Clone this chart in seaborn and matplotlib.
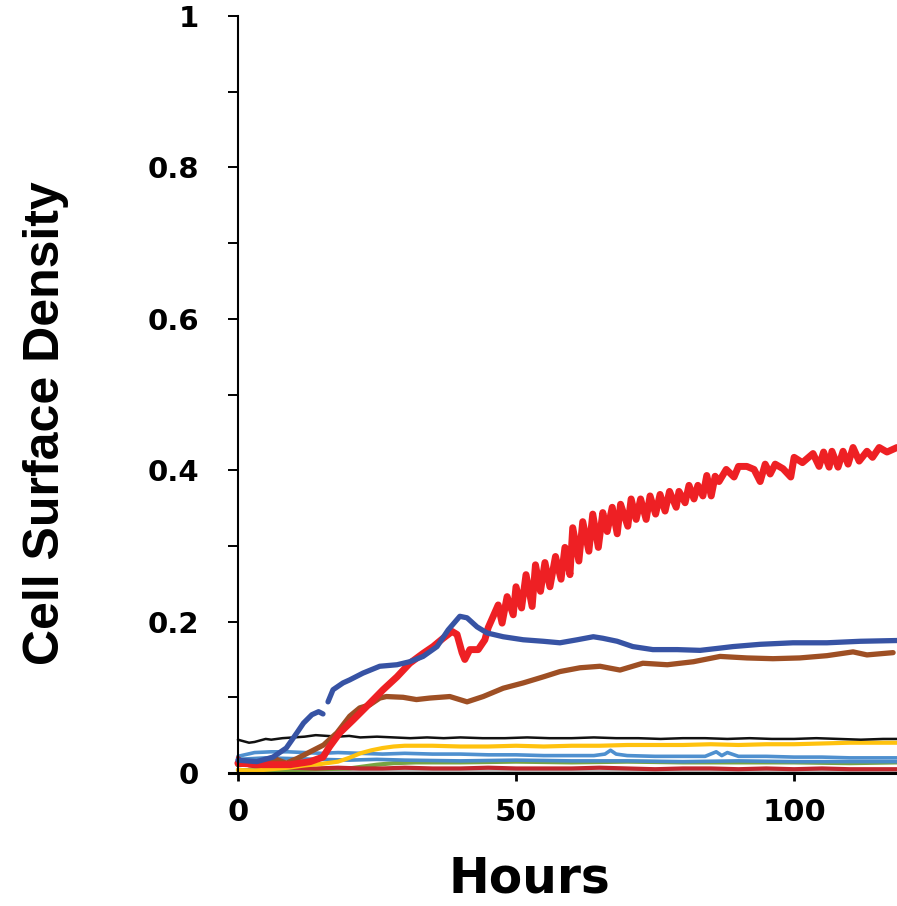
import matplotlib
matplotlib.use('Agg')
import matplotlib.pyplot as plt
import seaborn as sns
import pandas as pd

# main curve (red)
red_h = [0, 4.5, 9.4, 13.0, 15.3, 16.5, 18.3, 20.7, 23.7, 26.1, 28.6, 30.9, 33.3, 35.1, 36.9, 38.5,
         39.4, 40.3, 40.8, 41.7, 43.2, 44.4, 45.0, 46.8, 47.5, 48.4, 49.5, 50.0, 51.0, 51.8, 52.9,
         53.5, 54.4, 55.2, 56.1, 57.1, 58.1, 58.8, 59.7, 60.2, 61.3, 62.0, 63.1, 63.8, 64.8, 65.6,
         66.4, 67.3, 68.2, 68.8, 70.1, 70.7, 71.6, 72.4, 73.4, 74.1, 75.1, 75.9, 76.8, 77.6, 78.8,
         79.3, 80.4, 81.1, 82.0, 82.7, 83.6, 84.3, 85.1, 85.8, 86.5, 87.8, 89.2, 90.0, 91.5, 92.8,
         93.9, 94.8, 95.7, 96.6, 98.0, 99.4, 100.0, 101.5, 103.4, 104.5, 105.3, 106.3, 106.8, 107.9,
         108.8, 109.7, 110.6, 111.7, 113.1, 114.1, 115.3, 116.7, 118.5]
red_v = [0.013, 0.011, 0.011, 0.015, 0.021, 0.035, 0.053, 0.070, 0.092, 0.110, 0.127, 0.145, 0.158,
         0.167, 0.178, 0.187, 0.183, 0.159, 0.150, 0.163, 0.163, 0.176, 0.192, 0.222, 0.198, 0.233,
         0.209, 0.246, 0.218, 0.262, 0.220, 0.275, 0.240, 0.278, 0.246, 0.286, 0.256, 0.298, 0.262,
         0.324, 0.280, 0.332, 0.293, 0.342, 0.298, 0.344, 0.319, 0.351, 0.316, 0.355, 0.326, 0.362,
         0.335, 0.362, 0.335, 0.366, 0.342, 0.368, 0.346, 0.372, 0.351, 0.372, 0.357, 0.380, 0.362,
         0.380, 0.366, 0.393, 0.366, 0.392, 0.385, 0.401, 0.391, 0.405, 0.405, 0.401, 0.385, 0.408,
         0.395, 0.408, 0.402, 0.391, 0.417, 0.410, 0.422, 0.405, 0.424, 0.404, 0.425, 0.404, 0.425,
         0.408, 0.430, 0.412, 0.425, 0.417, 0.430, 0.424, 0.430]

# dark blue, with a break near 16 h
blue1_h = [0, 3.4, 6.3, 8.7, 10.6, 11.8, 13.3, 14.5, 15.3]
blue1_v = [0.017, 0.015, 0.021, 0.033, 0.053, 0.066, 0.077, 0.081, 0.078]
blue2_h = [16.2, 17.1, 18.9, 20.1, 22.5, 25.5, 28.6, 30.9, 33.3, 35.8, 37.8, 39.9, 41.2, 43.0, 44.8,
           47.7, 51.3, 54.9, 57.9, 61.0, 63.9, 65.6, 68.2, 71.0, 74.6, 79.0, 83.1, 86.7, 89.0, 93.9,
           99.8, 105.9, 111.9, 118.5]
blue2_v = [0.094, 0.110, 0.119, 0.123, 0.132, 0.141, 0.143, 0.147, 0.154, 0.167, 0.189, 0.207, 0.205,
           0.193, 0.185, 0.180, 0.176, 0.174, 0.172, 0.176, 0.180, 0.178, 0.174, 0.167, 0.163, 0.163,
           0.162, 0.165, 0.167, 0.170, 0.172, 0.172, 0.174, 0.175]

brown_h = [0, 3.4, 6.9, 8.7, 10.6, 13.0, 15.4, 17.8, 20.1, 21.9, 23.7, 25.5, 26.7, 29.7, 32.1, 34.5,
           38.1, 41.2, 44.1, 47.7, 51.3, 54.9, 57.9, 61.5, 65.1, 68.7, 72.8, 77.2, 81.9, 86.7, 91.5,
           96.2, 101.0, 105.9, 110.6, 113.1, 117.8]
brown_v = [0.011, 0.013, 0.018, 0.013, 0.019, 0.028, 0.037, 0.053, 0.075, 0.086, 0.090, 0.099, 0.101,
           0.100, 0.097, 0.099, 0.101, 0.094, 0.101, 0.112, 0.119, 0.127, 0.134, 0.139, 0.141, 0.136,
           0.145, 0.143, 0.147, 0.154, 0.152, 0.151, 0.152, 0.155, 0.160, 0.156, 0.159]

black_h = [0, 1, 2, 3, 4, 5, 6, 8, 10, 12, 14, 16, 18, 20, 22, 25, 28, 31, 34, 37, 40, 44, 48, 52, 56,
           60, 64, 68, 72, 76, 80, 84, 88, 92, 96, 100, 104, 108, 112, 116, 118.5]
black_v = [0.044, 0.042, 0.040, 0.041, 0.043, 0.045, 0.044, 0.046, 0.047, 0.048, 0.050, 0.049, 0.048,
           0.049, 0.047, 0.048, 0.047, 0.046, 0.047, 0.046, 0.047, 0.046, 0.046, 0.047, 0.046, 0.046,
           0.047, 0.046, 0.046, 0.045, 0.046, 0.046, 0.045, 0.046, 0.045, 0.045, 0.046, 0.045, 0.044,
           0.045, 0.045]

yellow_h = [0, 3, 6, 9, 12, 15, 18, 20, 22, 24, 26, 28, 30, 35, 40, 45, 50, 55, 60, 65, 70, 75, 80,
            85, 90, 95, 100, 105, 110, 115, 118.5]
yellow_v = [0.004, 0.003, 0.005, 0.007, 0.010, 0.012, 0.015, 0.020, 0.026, 0.030, 0.033, 0.035, 0.036,
            0.036, 0.035, 0.035, 0.036, 0.035, 0.036, 0.036, 0.037, 0.037, 0.037, 0.038, 0.037, 0.038,
            0.038, 0.039, 0.040, 0.040, 0.040]

ltblue1_h = [0, 3, 6, 9, 12, 15, 18, 22, 26, 30, 35, 40, 45, 50, 55, 60, 64, 66, 67, 68, 70, 75, 80,
             84, 86, 87, 88, 90, 95, 100, 105, 110, 115, 118.5]
ltblue1_v = [0.022, 0.027, 0.028, 0.028, 0.027, 0.026, 0.027, 0.026, 0.025, 0.026, 0.025, 0.025, 0.024,
             0.024, 0.023, 0.023, 0.023, 0.025, 0.030, 0.025, 0.023, 0.022, 0.022, 0.022, 0.028, 0.023,
             0.027, 0.022, 0.022, 0.021, 0.021, 0.020, 0.020, 0.020]

ltblue2_h = [0, 5, 10, 15, 20, 25, 30, 40, 50, 60, 70, 80, 90, 100, 110, 118.5]
ltblue2_v = [0.018, 0.020, 0.019, 0.018, 0.017, 0.018, 0.017, 0.016, 0.017, 0.016, 0.016, 0.015,
             0.016, 0.015, 0.015, 0.015]

green_h = [0, 5, 10, 15, 20, 22, 25, 28, 32, 40, 50, 60, 70, 80, 90, 100, 110, 118.5]
green_v = [0.004, 0.003, 0.004, 0.005, 0.006, 0.008, 0.011, 0.013, 0.014, 0.014, 0.015, 0.014, 0.015,
           0.014, 0.014, 0.014, 0.013, 0.014]

gray_h = [0, 20, 40, 60, 80, 100, 118.5]
gray_v = [0.004, 0.003, 0.003, 0.002, 0.003, 0.002, 0.002]

dkred_h = [0, 1, 2, 4, 6, 8, 10, 14, 18, 22, 26, 30, 35, 40, 45, 50, 55, 60, 65, 70, 75, 80, 85, 90,
           95, 100, 105, 110, 115, 118.5]
dkred_v = [0.020, 0.014, 0.010, 0.008, 0.007, 0.008, 0.007, 0.006, 0.007, 0.006, 0.006, 0.007, 0.006,
           0.006, 0.007, 0.006, 0.006, 0.006, 0.007, 0.006, 0.005, 0.006, 0.006, 0.005, 0.006, 0.005,
           0.006, 0.005, 0.005, 0.005]

y_ticks = [0, 0.2, 0.4, 0.6, 0.8, 1.0]
y_labels = ["0", "0.2", "0.4", "0.6", "0.8", "1"]
x_ticks = [0, 50, 100]
x_labels = ["0", "50", "100"]

# (hours, values, colour, linewidth) in drawing order
series = [
    (gray_h, gray_v, "#B5B5B5", 2.5),
    (green_h, green_v, "#78A443", 3.0),
    (ltblue2_h, ltblue2_v, "#4A8BC9", 2.6),
    (ltblue1_h, ltblue1_v, "#4F90CF", 2.6),
    (dkred_h, dkred_v, "#C1272D", 3.0),
    (yellow_h, yellow_v, "#FFC20E", 3.0),
    (black_h, black_v, "#111111", 1.8),
    (brown_h, brown_v, "#9E4F24", 3.8),
    (red_h, red_v, "#EE2024", 5.0),
    (blue1_h, blue1_v, "#3753A4", 3.8),
    (blue2_h, blue2_v, "#3753A4", 3.8),
]

sns.set_theme(style="white")
plt.rcParams['font.family'] = ['DejaVu Sans']
plt.rcParams['text.color'] = 'black'
plt.rcParams['axes.labelcolor'] = 'black'
plt.rcParams['xtick.color'] = 'black'
plt.rcParams['ytick.color'] = 'black'

fig = plt.figure(figsize=(8.97, 9.06), dpi=100)
ax = fig.add_axes([229 / 897, 133 / 906, 668 / 897, 757 / 906])

for hx, vy, col, lw in series:
    df = pd.DataFrame({"Hours": hx, "Density": vy})
    sns.lineplot(data=df, x="Hours", y="Density", color=col, lw=lw,
                 estimator=None, sort=False, ax=ax)

ax.set_xlim(-1.6, 118.5)
ax.set_ylim(0, 1)
ax.spines['left'].set_position(('data', 0))
ax.spines['top'].set_visible(False)
ax.spines['right'].set_visible(False)
ax.spines['left'].set_linewidth(1.5)
ax.spines['bottom'].set_linewidth(2.2)
for s in ('left', 'bottom'):
    ax.spines[s].set_color('black')

ax.set_yticks(y_ticks, labels=y_labels, fontsize=21, fontweight='bold')
ax.set_yticks([0.1, 0.3, 0.5, 0.7, 0.9], minor=True)
ax.set_xticks(x_ticks, labels=x_labels, fontsize=22, fontweight='bold')
ax.tick_params(axis='y', which='both', direction='out', left=True, length=7, width=1.4,
               pad=21, color='black', labelcolor='black')
ax.tick_params(axis='x', which='major', direction='out', bottom=True, length=6, width=2,
               pad=12, color='black', labelcolor='black')

ax.set_xlabel("Hours", fontsize=35, fontweight='bold', va='baseline')
ax.xaxis.set_label_coords(0.45, -0.1585)
ax.set_ylabel("Cell Surface Density", fontsize=36, fontweight='bold',
              family=['Liberation Sans', 'DejaVu Sans'])
ax.yaxis.set_label_coords(-0.24, 0.462)

fig.savefig("out.png", dpi=100)
plt.close(fig)
